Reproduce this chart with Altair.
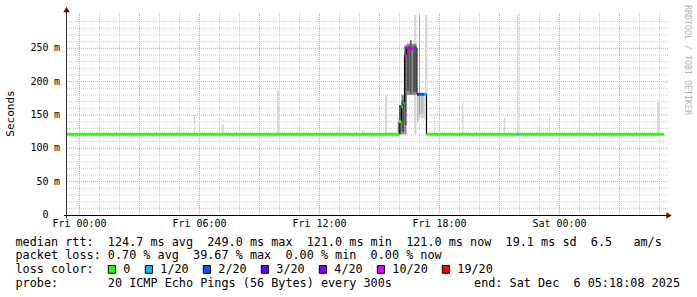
import altair as alt
import pandas as pd

FONT = "DejaVu Sans Mono"
NB = "\u00a0"


def nb(s):
    return s.replace(" ", NB)


# ---------------- data ----------------
# x: hours relative to Fri 00:00 ; y: milliseconds
X_DOMAIN = [-0.625, 29.375]
Y_DOMAIN = [0, 300]

x_tick_hours = [0, 6, 12, 18, 24]
x_tick_labels = ["Fri 00:00", "Fri 06:00", "Fri 12:00", "Fri 18:00", "Sat 00:00"]
y_tick_values = [0, 50, 100, 150, 200, 250]
y_tick_numbers = ["0", "50", "100", "150", "200", "250"]
y_tick_units = ["", "m", "m", "m", "m", "m"]

loss_labels = ["0", "1/20", "2/20", "3/20", "4/20", "10/20", "19/20"]
loss_colors = ["#26ff00", "#00b8ff", "#0059ff", "#5e00ff", "#7e00ff", "#dd00ff", "#ff0000"]

# median rtt (step segments) with packet-loss class
med_start = [-0.625, 15.975, 16.1, 16.175, 16.25, 16.35, 16.5, 16.6, 16.75,
             16.875, 17.0, 17.25, 17.35, 21.9, 21.975]
med_end = med_start[1:] + [29.2]
med_ms = [121, 140, 162, 168, 240, 251, 248, 250, 250, 181, 181, 181, 121, 121, 121]
med_loss = ["0", "0", "0", "1/20", "10/20", "10/20", "10/20", "10/20", "2/20",
            "3/20", "2/20", "1/20", "0", "1/20", "0"]

# smoke (ping spread) blocks
smoke_start = [5.72, 7.13, 9.88, 14.13, 15.28, 15.88, 16.73, 17.28, 17.73, 19.13,
               21.22, 21.88, 23.48, 24.98, 28.88,
               16.875, 16.875, 17.05, 16.98,
               15.975, 16.1, 16.1, 16.25, 16.25, 16.35, 16.35, 16.52, 16.68]
smoke_end = [5.78, 7.23, 9.98, 14.2, 15.38, 15.95, 16.85, 17.4, 17.78, 19.2,
             21.28, 21.95, 23.53, 25.03, 28.98,
             17.35, 16.95, 17.2, 17.02,
             16.1, 16.25, 16.25, 16.35, 16.35, 16.85, 16.5, 16.6, 16.85]
smoke_lo = [121, 121, 121, 121, 121, 121, 121, 121, 121, 121,
            121, 121, 121, 121, 121,
            145, 140, 152, 150,
            121, 121, 125, 121, 135, 180, 186, 182, 184]
smoke_hi = [150, 136, 187, 127, 181, 146, 300, 300, 147, 170,
            147, 300, 147, 181, 172,
            183, 183, 183, 300,
            165, 180, 172, 255, 252, 257, 253, 262, 254]
smoke_shade = [0, 0, 0, 0, 0, 0, 0, 0, 0, 0,
               0, 0, 0, 0, 0,
               0, 1, 1, 2,
               3, 2, 3, 2, 3, 2, 3, 3, 3]
shade_colors = ["#d9d9d9", "#bfbfbf", "#8c8c8c", "#555555"]

row_texts = [
    "median rtt:  124.7 ms avg  249.0 ms max  121.0 ms min  121.0 ms now  19.1 ms sd  6.5   am/s",
    "packet loss: 0.70 % avg  39.67 % max  0.00 % min  0.00 % now",
    "loss color:",
    "probe:       20 ICMP Echo Pings (56 Bytes) every 300s",
]
end_text = "end: Sat Dec  6 05:18:08 2025"
y_title = "Seconds"
watermark = "RRDTOOL / TOBI OETIKER"

# ---------------- layout constants (pixels) ----------------
W, H = 600, 200
PAD_L, PAD_T = 67, 15
LEG_FS = 11.8
LEG_CH = 7.0

xs = alt.Scale(domain=X_DOMAIN, nice=False, zero=False)
ys = alt.Scale(domain=Y_DOMAIN, nice=False, zero=False)
dummy = pd.DataFrame({"d": [0]})

# ---------------- grid ----------------
minor_v = pd.DataFrame({"h": [h for h in range(0, 30) if h % 3 != 0]})
major_v = pd.DataFrame({"h": [h for h in range(0, 30, 3)]})
minor_h = pd.DataFrame({"v": [v for v in range(10, 300, 10) if v % 50 != 0]})
major_h = pd.DataFrame({"v": [50, 100, 150, 200, 250]})

g_minor_v = alt.Chart(minor_v).mark_rule(color="#c8c8c8", strokeDash=[1, 1], strokeWidth=1).encode(
    x=alt.X("h:Q", scale=xs, axis=None), y=alt.value(-2), y2=alt.value(200))
g_major_v = alt.Chart(major_v).mark_rule(color="#e39a9a", strokeDash=[1, 1], strokeWidth=1).encode(
    x=alt.X("h:Q", scale=xs, axis=None), y=alt.value(-2), y2=alt.value(200))
g_minor_h = alt.Chart(minor_h).mark_rule(color="#c8c8c8", strokeDash=[1, 1], strokeWidth=1).encode(
    y=alt.Y("v:Q", scale=ys, axis=None), x=alt.value(0), x2=alt.value(601))
g_major_h = alt.Chart(major_h).mark_rule(color="#e39a9a", strokeDash=[1, 1], strokeWidth=1).encode(
    y=alt.Y("v:Q", scale=ys, axis=None), x=alt.value(0), x2=alt.value(601))

# ---------------- smoke ----------------
smoke_df = pd.DataFrame({
    "h0": smoke_start, "h1": smoke_end, "lo": smoke_lo, "hi": smoke_hi,
    "col": [shade_colors[s] for s in smoke_shade],
})
smoke = alt.Chart(smoke_df).mark_rect().encode(
    x=alt.X("h0:Q", scale=xs, axis=None), x2="h1:Q",
    y=alt.Y("lo:Q", scale=ys, axis=None), y2="hi:Q",
    color=alt.Color("col:N", scale=None),
)

# ---------------- median ----------------
cmap = dict(zip(loss_labels, loss_colors))
step_df = pd.DataFrame({"h": med_start + [med_end[-1]], "ms": med_ms + [med_ms[-1]]})
step = alt.Chart(step_df).mark_line(interpolate="step-after", color="#000000", strokeWidth=1).encode(
    x=alt.X("h:Q", scale=xs, axis=None), y=alt.Y("ms:Q", scale=ys, axis=None))

med_df = pd.DataFrame({"h0": med_start, "h1": med_end, "ms": med_ms,
                       "col": [cmap[l] for l in med_loss]})
median = alt.Chart(med_df).mark_rule(strokeWidth=3, strokeCap="butt").encode(
    x=alt.X("h0:Q", scale=xs, axis=None), x2="h1:Q",
    y=alt.Y("ms:Q", scale=ys, axis=None),
    color=alt.Color("col:N", scale=None),
)

# ---------------- axes ----------------
y_axis = alt.Chart(dummy).mark_rule(color="#333333", strokeWidth=1).encode(
    x=alt.value(-0.5), y=alt.value(-6), y2=alt.value(203.5))
x_axis = alt.Chart(dummy).mark_rule(color="#000000", strokeWidth=1).encode(
    y=alt.value(200.5), x=alt.value(-3), x2=alt.value(600))
arrow_up = alt.Chart(dummy).mark_point(shape="triangle-up", filled=True, color="#7f0000",
                                       size=40, opacity=1).encode(
    x=alt.value(-0.5), y=alt.value(-5.5))
arrow_right = alt.Chart(dummy).mark_point(shape="triangle-right", filled=True, color="#7f0000",
                                          size=40, opacity=1).encode(
    x=alt.value(602), y=alt.value(200.5))

x_lab_df = pd.DataFrame({"h": x_tick_hours, "t": x_tick_labels})
x_labels = alt.Chart(x_lab_df).mark_text(font=FONT, fontSize=10, align="center",
                                         baseline="top", color="#000000").encode(
    x=alt.X("h:Q", scale=xs, axis=None), y=alt.value(203.5), text="t:N")

y_lab_df = pd.DataFrame({"v": y_tick_values, "n": y_tick_numbers, "u": y_tick_units})
y_numbers = alt.Chart(y_lab_df).mark_text(font=FONT, fontSize=10, align="right",
                                          baseline="middle", color="#000000").encode(
    y=alt.Y("v:Q", scale=ys, axis=None), x=alt.value(48.5 - PAD_L), text="n:N")
y_units = alt.Chart(y_lab_df).mark_text(font=FONT, fontSize=10, align="left",
                                        baseline="middle", color="#000000").encode(
    y=alt.Y("v:Q", scale=ys, axis=None), x=alt.value(54 - PAD_L), text="u:N")

# ---------------- titles ----------------
y_title_mark = alt.Chart(pd.DataFrame({"t": [y_title]})).mark_text(
    font=FONT, fontSize=11, angle=270, align="center", baseline="middle", color="#000000").encode(
    x=alt.value(11 - PAD_L), y=alt.value(113.5 - PAD_T), text="t:N")
wm = alt.Chart(pd.DataFrame({"t": [nb(watermark)]})).mark_text(
    font=FONT, fontSize=8.3, angle=90, align="center", baseline="middle", color="#b4b4b4").encode(
    x=alt.value(686.5 - PAD_L), y=alt.value(60 - PAD_T), text="t:N")

# ---------------- legend text ----------------
row_y = [241.7, 255.2, 269.2, 283.3]
rows_df = pd.DataFrame({"t": [nb(s) for s in row_texts],
                        "px": [15.5 - PAD_L] * 4,
                        "py": [y - PAD_T for y in row_y]})
rows = alt.Chart(rows_df).mark_text(font=FONT, fontSize=LEG_FS, align="left",
                                    baseline="middle", color="#000000").encode(
    x=alt.X("px:Q", scale=None, axis=None), y=alt.Y("py:Q", scale=None, axis=None), text="t:N")

end_df = pd.DataFrame({"t": [nb(end_text)], "px": [680 - PAD_L], "py": [row_y[3] - PAD_T]})
end_mark = alt.Chart(end_df).mark_text(font=FONT, fontSize=LEG_FS, align="right",
                                       baseline="middle", color="#000000").encode(
    x=alt.X("px:Q", scale=None, axis=None), y=alt.Y("py:Q", scale=None, axis=None), text="t:N")

sq_x, lab_x = [], []
cursor = 108.3
for lab in loss_labels:
    sq_x.append(cursor - PAD_L)
    lab_x.append(cursor + 15 - PAD_L)
    cursor = cursor + 15 + len(lab) * LEG_CH + 15
loss_df = pd.DataFrame({"lab": loss_labels, "col": loss_colors, "sx": sq_x,
                        "sx2": [v + 7.2 for v in sq_x], "lx": lab_x,
                        "sy": [265.5 - PAD_T] * 7, "sy2": [273.3 - PAD_T] * 7,
                        "ly": [row_y[2] - PAD_T] * 7})
loss_sq = alt.Chart(loss_df).mark_rect(stroke="#000000", strokeWidth=1).encode(
    x=alt.X("sx:Q", scale=None, axis=None), x2="sx2:Q",
    y=alt.Y("sy:Q", scale=None, axis=None), y2="sy2:Q",
    color=alt.Color("col:N", scale=None))
loss_lab = alt.Chart(loss_df).mark_text(font=FONT, fontSize=LEG_FS, align="left",
                                        baseline="middle", color="#000000").encode(
    x=alt.X("lx:Q", scale=None, axis=None), y=alt.Y("ly:Q", scale=None, axis=None), text="lab:N")

chart = alt.layer(
    g_minor_v, g_minor_h, g_major_v, g_major_h,
    smoke, step, median,
    y_axis, x_axis, arrow_up, arrow_right,
    x_labels, y_numbers, y_units, y_title_mark, wm,
    rows, end_mark, loss_sq, loss_lab,
).properties(
    width=W, height=H,
    autosize=alt.AutoSizeParams(type="none"),
    padding={"left": PAD_L, "top": PAD_T, "right": 697 - PAD_L - W, "bottom": 297 - PAD_T - H},
    background="#ffffff",
).configure_view(stroke=None)

chart.save("out.html", embed_options={"renderer": "svg", "actions": False})
